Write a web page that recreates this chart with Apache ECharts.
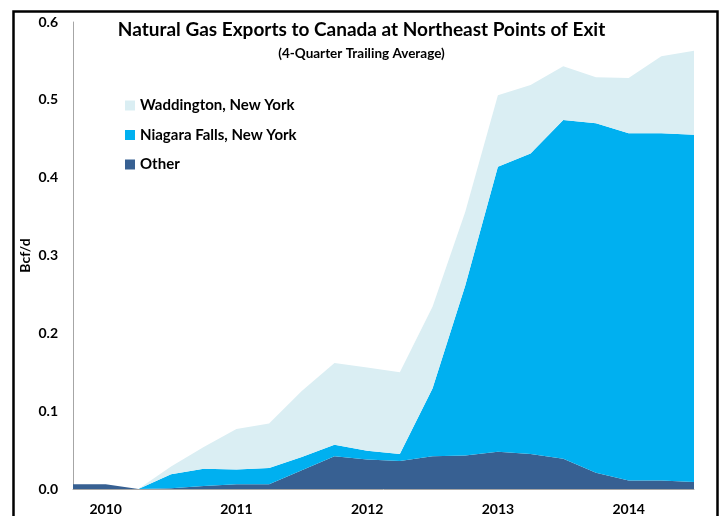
<!DOCTYPE html>
<html>
<head>
<meta charset="utf-8">
<script src="https://cdn.jsdelivr.net/npm/echarts@6/dist/echarts.min.js"></script>
<style>
html,body{margin:0;padding:0;background:#fff;}
#chart{width:723px;height:516px;}
</style>
</head>
<body>
<div id="chart"></div>
<script>
const quarters = ["2009 Q4","2010 Q1","2010 Q2","2010 Q3","2010 Q4","2011 Q1","2011 Q2","2011 Q3","2011 Q4","2012 Q1","2012 Q2","2012 Q3","2012 Q4","2013 Q1","2013 Q2","2013 Q3","2013 Q4","2014 Q1","2014 Q2","2014 Q3"];
const other = [0.006,0.006,0,0.001,0.004,0.006,0.006,0.024,0.042,0.038,0.036,0.042,0.043,0.048,0.045,0.039,0.021,0.011,0.011,0.009];
const niagara = [0,0,0,0.018,0.022,0.019,0.021,0.017,0.015,0.011,0.009,0.087,0.218,0.366,0.386,0.435,0.449,0.446,0.446,0.446];
const waddington = [0,0,0,0.010,0.028,0.052,0.057,0.085,0.105,0.107,0.105,0.105,0.095,0.092,0.088,0.069,0.059,0.071,0.099,0.108];
const yTicks = [0, 0.1, 0.2, 0.3, 0.4, 0.5, 0.6];

const FONT = 'Lato';
const chart = echarts.init(document.getElementById('chart'), null, {renderer: 'canvas'});
const area = (name, data, color) => ({
  name, type: 'line', stack: 'total', data,
  showSymbol: false, symbol: 'none',
  lineStyle: {width: 0},
  areaStyle: {color, opacity: 1},
  itemStyle: {color},
  emphasis: {disabled: true}
});
chart.setOption({
  animation: false,
  backgroundColor: '#fff',
  textStyle: {fontFamily: FONT},
  title: [{
    text: 'Natural Gas Exports to Canada at Northeast Points of Exit',
    left: 'center', top: 15,
    textStyle: {fontFamily: FONT, fontSize: 19, fontWeight: 'bold', color: '#000'}
  }, {
    text: '(4-Quarter Trailing Average)',
    left: 'center', top: 42,
    textStyle: {fontFamily: FONT, fontSize: 13.5, fontWeight: 'bold', color: '#000'}
  }],
  legend: {
    orient: 'vertical', left: 120, top: 93, itemGap: 14.5,
    icon: 'rect', itemWidth: 10, itemHeight: 10,
    textStyle: {fontFamily: FONT, fontSize: 15, fontWeight: 'bold', color: '#000'},
    data: ['Waddington, New York', 'Niagara Falls, New York', 'Other']
  },
  grid: {left: 73, right: 29, top: 22, bottom: 26, containLabel: false},
  xAxis: {
    type: 'category', data: quarters, boundaryGap: false,
    axisLine: {lineStyle: {color: '#A6A6A6', width: 1}},
    axisTick: {show: false},
    axisLabel: {
      interval: 0, margin: 13,
      formatter: v => v.endsWith('Q1') ? v.slice(0, 4) : '',
      fontFamily: FONT, fontSize: 14, fontWeight: 'bold', color: '#000'
    },
    splitLine: {show: false}
  },
  yAxis: {
    type: 'value', min: yTicks[0], max: yTicks[yTicks.length - 1], interval: 0.1,
    name: 'Bcf/d', nameLocation: 'middle', nameGap: 41, nameRotate: 90,
    nameMoveOverlap: false,
    nameTextStyle: {fontFamily: FONT, fontSize: 14, fontWeight: 'bold', color: '#000'},
    axisLine: {show: true, lineStyle: {color: '#A6A6A6', width: 1}},
    axisTick: {show: false},
    splitLine: {show: false},
    axisLabel: {
      margin: 15, formatter: v => v.toFixed(1),
      fontFamily: FONT, fontSize: 14, fontWeight: 'bold', color: '#000'
    }
  },
  series: [
    area('Other', other, '#376092'),
    area('Niagara Falls, New York', niagara, '#00B0F0'),
    area('Waddington, New York', waddington, '#DAEEF3')
  ],
  graphic: [{
    type: 'rect', left: 11, top: 9, z: 100, silent: true,
    shape: {width: 704, height: 520},
    style: {fill: 'none', stroke: '#000', lineWidth: 2.5}
  }]
});
</script>
</body>
</html>
